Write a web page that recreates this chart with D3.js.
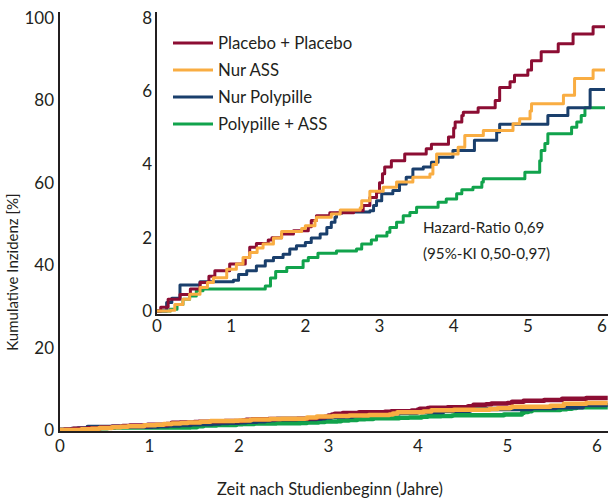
<!DOCTYPE html>
<html>
<head>
<meta charset="utf-8">
<title>Kumulative Inzidenz</title>
<style>
  body { margin: 0; background: #fff; }
  text { font-family: Lato, "Open Sans", sans-serif; fill: #231f20; }
</style>
</head>
<body>
<script src="https://d3js.org/d3.v7.min.js"></script>
<script>
// series: [Jahre, kumulative Inzidenz %]
const placeboData = [[0,0],[0.05,0.1],[0.15,0.32],[0.31,0.45],[0.45,0.6],[0.58,0.78],[0.7,0.95],[0.78,1.1],[0.98,1.28],[1.19,1.46],[1.25,1.74],[1.34,1.84],[1.5,1.94],[1.55,2.0],[1.68,2.1],[1.84,2.19],[2.04,2.3],[2.08,2.47],[2.15,2.6],[2.33,2.68],[2.65,2.74],[2.78,2.88],[2.87,3.1],[2.96,3.24],[3.0,3.5],[3.04,3.75],[3.07,3.93],[3.16,4.1],[3.34,4.29],[3.63,4.43],[3.7,4.55],[3.93,4.75],[4.0,5.0],[4.02,5.16],[4.11,5.34],[4.13,5.43],[4.33,5.55],[4.56,5.75],[4.62,6.1],[4.76,6.26],[4.82,6.44],[5.0,6.58],[5.05,6.83],[5.18,7.08],[5.41,7.3],[5.61,7.56],[5.88,7.76],[6.12,7.76]];
const assData = [[0,0],[0.18,0.02],[0.24,0.18],[0.35,0.32],[0.44,0.46],[0.58,0.64],[0.68,0.78],[0.76,0.91],[0.94,1.14],[1.07,1.28],[1.16,1.46],[1.25,1.6],[1.35,1.72],[1.43,1.83],[1.57,1.99],[1.68,2.17],[1.95,2.25],[2.0,2.33],[2.13,2.47],[2.15,2.56],[2.35,2.65],[2.47,2.76],[2.74,2.82],[2.76,3.01],[2.87,3.27],[3.05,3.38],[3.23,3.52],[3.45,3.65],[3.68,3.74],[3.72,4.0],[3.77,4.29],[4.06,4.47],[4.15,4.79],[4.4,4.93],[4.8,5.11],[4.89,5.25],[5.03,5.46],[5.05,5.66],[5.48,5.89],[5.63,6.35],[5.88,6.58],[6.12,6.58]];
const polyData = [[0,0],[0.13,0.23],[0.2,0.35],[0.31,0.71],[0.58,0.8],[1.03,0.84],[1.1,1.0],[1.21,1.1],[1.34,1.23],[1.46,1.37],[1.57,1.46],[1.7,1.55],[1.79,1.69],[1.88,1.78],[2.0,1.87],[2.08,1.99],[2.2,2.1],[2.29,2.28],[2.35,2.42],[2.4,2.56],[2.42,2.67],[2.49,2.7],[2.87,2.74],[2.92,2.88],[2.96,3.01],[3.03,3.2],[3.18,3.29],[3.27,3.47],[3.36,3.65],[3.45,3.88],[3.59,3.93],[3.7,4.06],[3.79,4.2],[3.99,4.38],[4.28,4.66],[4.58,4.89],[4.62,5.1],[5.27,5.34],[5.54,5.55],[5.84,6.05],[6.12,6.05]];
const polyAssData = [[0,0],[0.18,0.05],[0.27,0.18],[0.35,0.32],[0.44,0.41],[0.53,0.55],[0.62,0.6],[1.39,0.6],[1.46,0.68],[1.53,0.9],[1.6,1.08],[1.75,1.19],[1.97,1.37],[2.04,1.46],[2.17,1.58],[2.42,1.64],[2.69,1.69],[2.76,1.83],[2.89,1.94],[2.96,2.05],[3.1,2.15],[3.14,2.28],[3.23,2.42],[3.32,2.6],[3.41,2.69],[3.5,2.83],[3.79,2.97],[3.9,3.06],[4.04,3.2],[4.11,3.31],[4.26,3.38],[4.38,3.52],[4.4,3.61],[4.96,3.79],[5.16,4.1],[5.18,4.38],[5.23,4.57],[5.27,4.84],[5.59,5.02],[5.66,5.16],[5.72,5.34],[5.77,5.55],[6.12,5.55]];

const seriesNames = ["Placebo + Placebo", "Nur ASS", "Nur Polypille", "Polypille + ASS"];
const seriesColors = ["#8c0d33", "#f9ad42", "#1a3f6c", "#11a34c"];
const seriesData = [placeboData, assData, polyData, polyAssData];

const xTicks = [0, 1, 2, 3, 4, 5, 6];
const mainYTicks = [0, 20, 40, 60, 80, 100];
const insetYTicks = [0, 2, 4, 6, 8];
const hazardLines = ["Hazard-Ratio 0,69", "(95%-KI 0,50-0,97)"];

const width = 608, height = 500;
const svg = d3.select("body").append("svg")
    .attr("width", width)
    .attr("height", height);

const axisColor = "#231f20";

// main chart scales
const mainX = d3.scaleLinear().domain([0, 6]).range([60, 597]);
const mainY = d3.scaleLinear().domain([0, 100]).range([430, 18]);

// inset scales
const insetX = d3.scaleLinear().domain([0, 6]).range([157, 602]);
const insetY = d3.scaleLinear().domain([0, 8]).range([311, 18]);

svg.append("clipPath").attr("id", "clipMain")
    .append("rect").attr("x", 59).attr("y", 0).attr("width", 549).attr("height", 432);
svg.append("clipPath").attr("id", "clipInset")
    .append("rect").attr("x", 156).attr("y", 0).attr("width", 449).attr("height", 313);

// draw order: orange on top
const drawOrder = [3, 2, 0, 1];

function drawLines(g, sx, sy, strokeWidth) {
    const line = d3.line()
        .x(d => sx(d[0]))
        .y(d => sy(d[1]))
        .curve(d3.curveStepAfter);
    g.selectAll("path")
        .data(drawOrder)
        .join("path")
        .attr("fill", "none")
        .attr("stroke", i => seriesColors[i])
        .attr("stroke-width", strokeWidth)
        .attr("stroke-linejoin", "round")
        .attr("d", i => line(seriesData[i]));
}

function drawAxes(g, sx, sy, yTicks, x0, yBottom, yTop, yLabelX, xLabelY) {
    g.append("line")
        .attr("x1", x0).attr("x2", x0)
        .attr("y1", yTop).attr("y2", yBottom + 1)
        .attr("stroke", axisColor).attr("stroke-width", 2);
    g.append("line")
        .attr("x1", x0).attr("x2", width)
        .attr("y1", yBottom).attr("y2", yBottom)
        .attr("stroke", axisColor).attr("stroke-width", 2);
    g.selectAll(".ylab")
        .data(yTicks)
        .join("text")
        .attr("class", "ylab")
        .attr("x", yLabelX)
        .attr("y", d => sy(d))
        .attr("dy", "0.35em")
        .attr("text-anchor", "end")
        .attr("font-size", 17)
        .text(d => d);
    g.selectAll(".xlab")
        .data(xTicks)
        .join("text")
        .attr("class", "xlab")
        .attr("x", d => sx(d))
        .attr("y", xLabelY)
        .attr("dy", "0.35em")
        .attr("text-anchor", "middle")
        .attr("font-size", 17)
        .text(d => d);
}

// main chart
const gMain = svg.append("g");
drawLines(gMain.append("g").attr("clip-path", "url(#clipMain)"), mainX, mainY, 4.5);
drawAxes(gMain, mainX, mainY, mainYTicks, 59, 432, 12, 54, 446);

// inset chart
const gInset = svg.append("g");
drawLines(gInset.append("g").attr("clip-path", "url(#clipInset)"), insetX, insetY, 3);
drawAxes(gInset, insetX, insetY, insetYTicks, 156, 315, 12, 152, 326);

// legend
const legend = svg.append("g")
    .selectAll("g")
    .data(seriesNames)
    .join("g")
    .attr("transform", (d, i) => `translate(173, ${43 + i * 27})`);
legend.append("line")
    .attr("x1", 0).attr("x2", 40)
    .attr("stroke", (d, i) => seriesColors[i])
    .attr("stroke-width", 3);
legend.append("text")
    .attr("x", 45)
    .attr("dy", "0.35em")
    .attr("font-size", 16.8)
    .text(d => d);

// hazard ratio annotation
svg.append("g")
    .selectAll("text")
    .data(hazardLines)
    .join("text")
    .attr("x", 423)
    .attr("y", (d, i) => 233 + i * 26)
    .attr("font-size", 15.2)
    .text(d => d);

// axis titles
svg.append("text")
    .attr("transform", "translate(18, 272) rotate(-90)")
    .attr("text-anchor", "middle")
    .attr("font-size", 15)
    .text("Kumulative Inzidenz [%]");
svg.append("text")
    .attr("x", 330)
    .attr("y", 495)
    .attr("text-anchor", "middle")
    .attr("font-size", 16.5)
    .text("Zeit nach Studienbeginn (Jahre)");
</script>
</body>
</html>
